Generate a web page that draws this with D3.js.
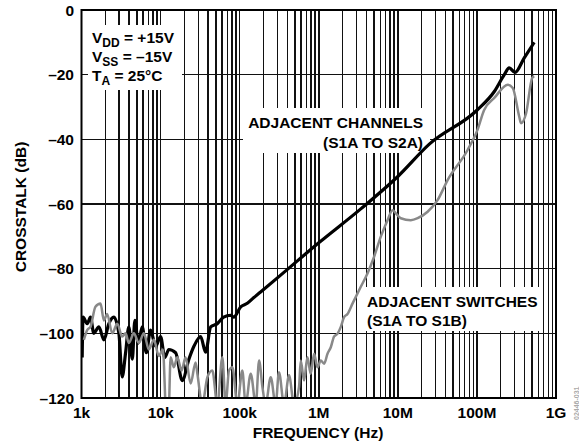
<!DOCTYPE html>
<html>
<head>
<meta charset="utf-8">
<script src="https://d3js.org/d3.v7.min.js"></script>
<style>
  body { margin: 0; background: #fff; }
  text { font-family: "Liberation Sans", Arial, sans-serif; font-weight: bold; }
</style>
</head>
<body>
<svg id="chart" width="579" height="444"></svg>
<script>
// values
const yTicks = [0, -20, -40, -60, -80, -100, -120];
const xDecades = [1e3, 1e4, 1e5, 1e6, 1e7, 1e8, 1e9];
const xTickLabels = ["1k", "10k", "100k", "1M", "10M", "100M", "1G"];

// ADJACENT CHANNELS (S1A TO S2A) - black
const chanFreq = [1020, 1045, 1180, 1300, 1430, 1660, 1920, 2220, 2560, 2970, 3270, 3610, 3970, 4390, 4730,
  5230, 5870, 6590, 7470, 8650, 10000, 11300, 12700, 15500, 18800, 22800, 26400, 32100, 37100, 43000,
  52200, 62700, 76900, 83900, 103000, 125000, 150000, 184000, 330000, 1e6, 3.4e6, 1e7, 2.5e7, 1e8,
  1.66e8, 2.22e8, 2.56e8, 3.03e8, 3.97e8, 5.31e8];
const chanDb = [-107.5, -95, -97, -95, -100, -98, -102, -97, -95, -100, -113.5, -106, -98, -108, -96,
  -103, -98, -106, -99, -104, -101, -107.5, -105, -106, -114.6, -108, -104, -101, -105.8, -98,
  -97, -95, -94.4, -95, -91.8, -90.7, -89, -87.2, -82, -72, -61.5, -51.5, -41.5, -31,
  -25.2, -20, -17.9, -19.3, -14.8, -10];

// ADJACENT SWITCHES (S1A TO S1B) - grey
const swFreq = [1070, 1180, 1300, 1500, 1740, 1920, 2110, 2450, 2830, 3270, 3610, 3970, 4590, 5310, 6150,
  7110, 8230, 9510, 10700, 11800, 12600, 13400, 14700, 16300, 18400, 20700, 24000, 27700, 29200, 33700,
  39000, 45100, 52200, 60400, 66500, 73300, 80900, 93600, 108000, 119000, 138000, 160000, 176000, 194000,
  213000, 247000, 285000, 314000, 364000, 421000, 487000, 563000, 592000, 652000, 719000, 792000, 873000,
  964000, 1.06e6, 1.17e6, 1.29e6, 1.42e6, 1.56e6, 1.73e6, 1.9e6, 2.09e6, 2.31e6, 2.67e6, 3.4e6, 4.13e6,
  5.01e6, 6.09e6, 7.41e6, 8.57e6, 9.44e6, 1.09e7, 1.46e7, 1.78e7, 2.38e7, 3.18e7, 4.26e7, 7.62e7, 1.02e8,
  1.23e8, 1.66e8, 2.46e8, 2.84e8, 3.43e8, 3.61e8, 4.18e8, 5.0e8, 5.31e8];
const swDb = [-102, -99, -98, -91.8, -90.8, -96, -94, -100, -97, -101, -100, -103, -100, -103, -100,
  -105, -102, -107, -105, -125, -125, -107.4, -110.5, -107.4, -111.5, -107.4, -115.5, -109, -112.5, -122,
  -113.6, -111.5, -122, -107.4, -122, -111.5, -110.5, -122, -111.5, -122, -112.5, -122, -108.4, -116.6,
  -122, -113.6, -122, -112, -122, -113, -122, -116.6, -108.4, -114.6, -107.4, -112.5, -106.3,
  -110.5, -108.4, -109.4, -106.3, -104.3, -101, -100.1, -98, -95, -94, -90.8, -85.6, -81.5,
  -76.3, -70.1, -65, -61.9, -62.9, -64.4, -65, -64.4, -62.4, -58.8, -52.6, -43.3, -37,
  -31, -27.2, -23.1, -24.1, -33, -35, -32, -21, -20.5];

const svg = d3.select("#chart");
const pLeft = 81.5, pRight = 556, pTop = 10, pBottom = 398;

const x = d3.scaleLog().domain([1e3, 1e9]).range([pLeft, pRight]);
const y = d3.scaleLinear().domain([-120, 0]).range([pBottom, pTop]);

// grid: every 1..9 x decade, every 20 dB
const minorX = [];
xDecades.slice(0, -1).forEach(d => { for (let k = 1; k < 10; k++) minorX.push(d * k); });
minorX.push(1e9);

const grid = svg.append("g")
  .attr("stroke", "#111").attr("stroke-width", 1.5)
  .attr("shape-rendering", "crispEdges");
grid.selectAll("line.v").data(minorX).join("line")
  .attr("class", "v")
  .attr("x1", d => x(d)).attr("x2", d => x(d))
  .attr("y1", pTop).attr("y2", pBottom);
grid.selectAll("line.h").data(yTicks).join("line")
  .attr("class", "h")
  .attr("x1", pLeft).attr("x2", pRight)
  .attr("y1", d => y(d)).attr("y2", d => y(d));

// white boxes behind the labels (they cut the grid)
const boxes = [
  { x: 88, y: 25, w: 94, h: 65 },
  { x: 243, y: 108, w: 187, h: 45 },
  { x: 362, y: 287, w: 179, h: 44 }
];
svg.selectAll("rect.box").data(boxes).join("rect")
  .attr("class", "box")
  .attr("x", d => d.x).attr("y", d => d.y)
  .attr("width", d => d.w).attr("height", d => d.h)
  .attr("fill", "#fff");

// frame
svg.append("rect")
  .attr("x", pLeft).attr("y", pTop)
  .attr("width", pRight - pLeft).attr("height", pBottom - pTop)
  .attr("fill", "none").attr("stroke", "#000").attr("stroke-width", 2);

// curves
svg.append("clipPath").attr("id", "clip")
  .append("rect").attr("x", pLeft).attr("y", pTop)
  .attr("width", pRight - pLeft).attr("height", pBottom - pTop - 1);

const line = d3.line()
  .x(d => x(d[0])).y(d => y(d[1]))
  .curve(d3.curveMonotoneX);

const plot = svg.append("g").attr("clip-path", "url(#clip)");
plot.append("path")
  .datum(d3.zip(chanFreq, chanDb))
  .attr("d", line)
  .attr("fill", "none").attr("stroke", "#000").attr("stroke-width", 3.2)
  .attr("stroke-linejoin", "round");
plot.append("path")
  .datum(d3.zip(swFreq, swDb))
  .attr("d", line)
  .attr("fill", "none").attr("stroke", "#898989").attr("stroke-width", 2.5)
  .attr("stroke-linejoin", "round");

// tick labels
svg.selectAll("text.yt").data(yTicks).join("text")
  .attr("class", "yt")
  .attr("x", 74).attr("y", d => y(d) + 5.5)
  .attr("text-anchor", "end").attr("font-size", 15.5)
  .text(d => d === 0 ? "0" : "\u2013" + Math.abs(d));

svg.selectAll("text.xt").data(xDecades).join("text")
  .attr("class", "xt")
  .attr("x", d => x(d)).attr("y", 418)
  .attr("text-anchor", "middle").attr("font-size", 15.5)
  .text((d, i) => xTickLabels[i]);

// axis titles
svg.append("text")
  .attr("x", 318).attr("y", 438)
  .attr("text-anchor", "middle").attr("font-size", 15.5)
  .text("FREQUENCY (Hz)");
svg.append("text")
  .attr("transform", "translate(26,207) rotate(-90)")
  .attr("text-anchor", "middle").attr("font-size", 15.5)
  .text("CROSSTALK (dB)");

// conditions box
const cond = [
  { main: "V", sub: "DD", rest: " = +15V", y: 43 },
  { main: "V", sub: "SS", rest: " = \u201315V", y: 62 },
  { main: "T", sub: "A", rest: " = 25\u00B0C", y: 81 }
];
cond.forEach(c => {
  const t = svg.append("text").attr("x", 92).attr("y", c.y).attr("font-size", 15.5);
  t.append("tspan").text(c.main);
  t.append("tspan").attr("font-size", 12).attr("dy", 4).text(c.sub);
  t.append("tspan").attr("dy", -4).text(c.rest);
});

// curve labels
svg.append("text").attr("x", 423).attr("y", 128).attr("text-anchor", "end")
  .attr("font-size", 15.5).text("ADJACENT CHANNELS");
svg.append("text").attr("x", 423).attr("y", 148).attr("text-anchor", "end")
  .attr("font-size", 15.5).text("(S1A TO S2A)");
svg.append("text").attr("x", 367).attr("y", 307)
  .attr("font-size", 15.5).text("ADJACENT SWITCHES");
svg.append("text").attr("x", 367).attr("y", 326)
  .attr("font-size", 15.5).text("(S1A TO S1B)");

// figure id
svg.append("text")
  .attr("transform", "translate(579,420) rotate(-90)")
  .attr("font-size", 7).attr("font-weight", "normal").attr("fill", "#aaa")
  .text("02446-031");
</script>
</body>
</html>
